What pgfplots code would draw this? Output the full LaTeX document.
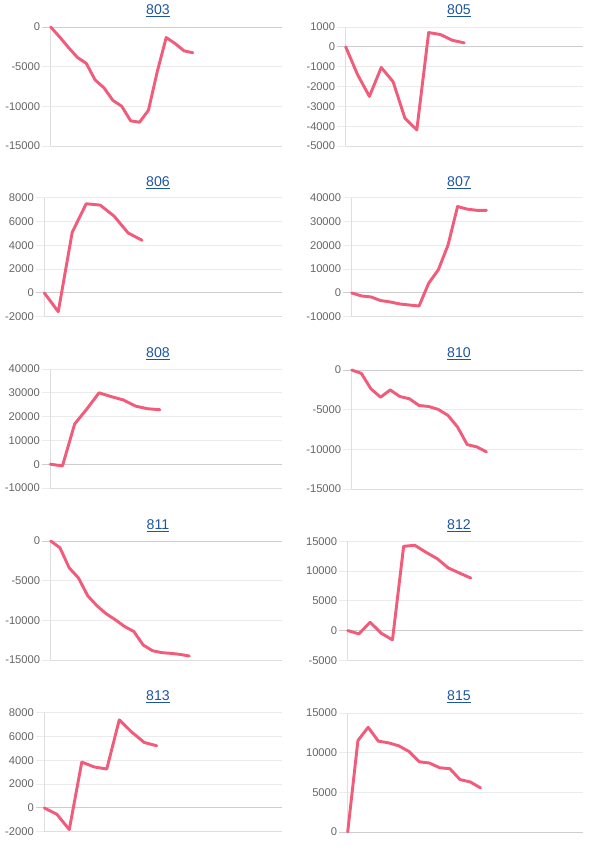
\documentclass[border=0pt]{standalone}
\usepackage{fontspec}
\setmainfont{Liberation Sans}
\usepackage{pgfplots}
\pgfplotsset{compat=1.18}
\definecolor{linec}{RGB}{240,92,122}
\definecolor{gridc}{RGB}{235,235,235}
\definecolor{axisc}{RGB}{222,222,222}
\definecolor{zeroc}{RGB}{205,205,205}
\definecolor{tickc}{RGB}{102,102,102}
\definecolor{titlec}{RGB}{30,85,160}
\pgfplotsset{
  panel/.style={
    scale only axis,
    height=89.25pt,
    anchor=south west,
    xmin=0,
    enlargelimits=false,
    clip=false,
    axis lines=left,
    axis line style={-, draw=axisc, line width=0.75pt},
    xtick=\empty,
    ymajorgrids,
    grid style={draw=gridc, line width=0.75pt},
    tick align=outside,
    major tick length=6.5pt,
    tick style={draw=gridc, line width=0.75pt},
    yticklabel style={font=\fontsize{8.4}{9}\selectfont, text=tickc, inner sep=1.2pt},
    scaled y ticks=false,
    /pgf/number format/assume math mode=true,
    /pgf/number format/1000 sep={},
    /pgf/number format/fixed,
    extra y ticks={0},
    extra y tick labels={},
    extra y tick style={grid style={draw=zeroc, line width=0.75pt}, tick style={draw=zeroc}},
  },
  ser/.style={color=linec, line width=2.2pt, line join=round, line cap=round, mark=none},
}
\newcommand{\ptitle}[3]{\node[font=\fontsize{10.6}{12}\selectfont, text=titlec, inner sep=0pt, anchor=base] at (#1,#2) {\underline{#3}};}
\begin{document}
\begin{tikzpicture}[x=0.75pt,y=-0.75pt]
\path (0,0) rectangle (611,850);
% ---------- row 1 ----------
\ptitle{158}{14}{803}
\begin{axis}[panel, at={(38.025pt,-109.5pt)}, width=173.25pt, xmax=26, ymin=-15000, ymax=0, ytick={-15000,-10000,-5000,0}]
\addplot[ser] coordinates {(0,0) (1,-1250) (2,-2580) (3,-3830) (4,-4580) (5,-6670) (6,-7670) (7,-9250) (8,-10000) (9,-11830) (10,-12000) (11,-10500) (12,-5600) (13,-1330) (14,-2080) (15,-3000) (16,-3250)};
\end{axis}
\ptitle{459}{14}{805}
\begin{axis}[panel, at={(259.275pt,-109.5pt)}, width=177.75pt, xmax=20, ymin=-5000, ymax=1000, ytick={-5000,-4000,-3000,-2000,-1000,0,1000}]
\addplot[ser] coordinates {(0,0) (1,-1400) (2,-2500) (3,-1040) (4,-1760) (5,-3600) (6,-4190) (7,720) (8,620) (9,330) (10,200)};
\end{axis}
% ---------- row 2 ----------
\ptitle{158}{186.5}{806}
\begin{axis}[panel, at={(33.225pt,-237.525pt)}, width=178.05pt, xmax=17, ymin=-2000, ymax=8000, ytick={-2000,0,2000,4000,6000,8000}]
\addplot[ser] coordinates {(0,0) (1,-1580) (2,5100) (3,7490) (4,7380) (5,6450) (6,5040) (7,4420)};
\end{axis}
\ptitle{459}{186.5}{807}
\begin{axis}[panel, at={(263.775pt,-237.525pt)}, width=173.25pt, xmax=24, ymin=-10000, ymax=40000, ytick={-10000,0,10000,20000,30000,40000}]
\addplot[ser] coordinates {(0,0) (1,-1270) (2,-1700) (3,-3200) (4,-3800) (5,-4650) (6,-5100) (7,-5500) (8,4100) (9,9700) (10,20000) (11,36300) (12,35200) (13,34700) (14,34700)};
\end{axis}
% ---------- row 3 ----------
\ptitle{158}{357}{808}
\begin{axis}[panel, at={(37.725pt,-366pt)}, width=173.55pt, xmax=19, ymin=-10000, ymax=40000, ytick={-10000,0,10000,20000,30000,40000}]
\addplot[ser] coordinates {(0,0) (1,-700) (2,16900) (3,23200) (4,30000) (5,28400) (6,27000) (7,24400) (8,23300) (9,22900)};
\end{axis}
\ptitle{459}{357}{810}
\begin{axis}[panel, at={(263.775pt,-366.75pt)}, width=173.25pt, xmax=24, ymin=-15000, ymax=0, ytick={-15000,-10000,-5000,0}]
\addplot[ser] coordinates {(0,0) (1,-420) (2,-2380) (3,-3430) (4,-2510) (5,-3340) (6,-3630) (7,-4470) (8,-4600) (9,-4970) (10,-5720) (11,-7190) (12,-9400) (13,-9690) (14,-10320)};
\end{axis}
% ---------- row 4 ----------
\ptitle{158}{529}{811}
\begin{axis}[panel, at={(38.025pt,-495pt)}, width=173.25pt, xmax=25, ymin=-15000, ymax=0, ytick={-15000,-10000,-5000,0}]
\addplot[ser] coordinates {(0,0) (1,-850) (2,-3380) (3,-4650) (4,-6890) (5,-8160) (6,-9170) (7,-9930) (8,-10780) (9,-11410) (10,-13100) (11,-13820) (12,-14070) (13,-14160) (14,-14290) (15,-14500)};
\end{axis}
\ptitle{459}{529}{812}
\begin{axis}[panel, at={(260.775pt,-495.225pt)}, width=176.25pt, xmax=21, ymin=-5000, ymax=15000, ytick={-5000,0,5000,10000,15000}]
\addplot[ser] coordinates {(0,0) (1,-560) (2,1400) (3,-450) (4,-1570) (5,14160) (6,14330) (7,13150) (8,12080) (9,10510) (10,9660) (11,8820)};
\end{axis}
% ---------- row 5 ----------
\ptitle{158}{700}{813}
\begin{axis}[panel, at={(33.225pt,-623.775pt)}, width=178.05pt, xmax=19, ymin=-2000, ymax=8000, ytick={-2000,0,2000,4000,6000,8000}]
\addplot[ser] coordinates {(0,0) (1,-530) (2,-1820) (3,3850) (4,3440) (5,3270) (6,7400) (7,6370) (8,5500) (9,5220)};
\end{axis}
\ptitle{459}{700}{815}
\begin{axis}[panel, at={(260.775pt,-624pt)}, width=176.25pt, xmax=23, ymin=0, ymax=15000, ytick={0,5000,10000,15000}]
\addplot[ser] coordinates {(0,0) (1,11530) (2,13200) (3,11450) (4,11240) (5,10860) (6,10150) (7,8860) (8,8690) (9,8100) (10,7980) (11,6600) (12,6310) (13,5560)};
\end{axis}
\end{tikzpicture}
\end{document}
